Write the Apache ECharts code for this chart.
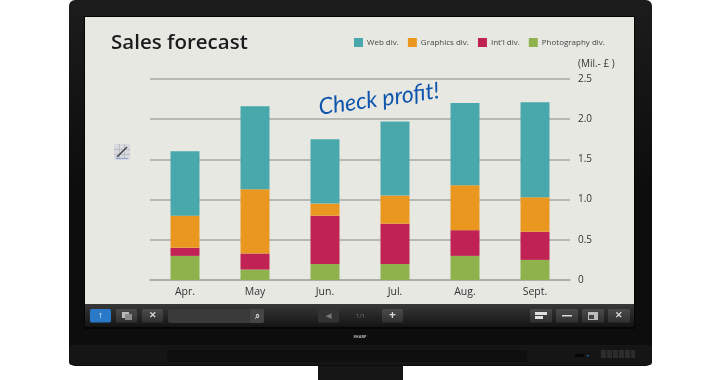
<!DOCTYPE html>
<html>
<head>
<meta charset="utf-8">
<style>
html,body{margin:0;padding:0;background:#fff;}
#chart{width:720px;height:380px;}
</style>
<script src="https://cdn.jsdelivr.net/npm/echarts@6/dist/echarts.min.js"></script>
</head>
<body>
<div id="chart"></div>
<script>
var months = ['Apr.', 'May', 'Jun.', 'Jul.', 'Aug.', 'Sept.'];
var photography = [0.30, 0.13, 0.20, 0.20, 0.30, 0.25];
var intl = [0.10, 0.20, 0.60, 0.50, 0.32, 0.35];
var graphics = [0.40, 0.80, 0.15, 0.35, 0.56, 0.43];
var web = [0.80, 1.03, 0.80, 0.92, 1.02, 1.18];

var FONT = '"Open Sans", "Noto Sans", sans-serif';

function rect(x, y, w, h, fill, r) {
  return { type: 'rect', shape: { x: x, y: y, width: w, height: h, r: r || 0 }, style: { fill: fill } };
}

// toolbar button
function btn(x, w, fill) {
  return {
    type: 'rect',
    shape: { x: x, y: 309, width: w, height: 13.5, r: 1.5 },
    style: {
      fill: fill || new echarts.graphic.LinearGradient(0, 0, 0, 1, [
        { offset: 0, color: '#4b4b4b' }, { offset: 1, color: '#303030' }
      ])
    }
  };
}

function glyph(x, y, text, size, color) {
  return {
    type: 'text', x: x, y: y,
    style: { text: text, fill: color || '#d8d8d8', font: 'bold ' + size + 'px ' + FONT, align: 'center', verticalAlign: 'middle' }
  };
}

// monitor frame, everything under the chart
var frame = [
  rect(318, 362, 85, 18, '#161616'),
  {
    type: 'rect',
    shape: { x: 69, y: 0, width: 583, height: 366, r: 6 },
    style: {
      fill: new echarts.graphic.LinearGradient(0, 0, 0, 1, [
        { offset: 0, color: '#1c1c1c' }, { offset: 0.5, color: '#0d0d0d' }, { offset: 1, color: '#0d0d0d' }
      ])
    }
  },
  rect(69, 345, 583, 20, '#151515', 3),
  rect(167, 350, 360, 12, '#0f0f0f'),
  rect(84, 16, 551, 313, '#050505'),
  rect(85, 17, 549, 287, '#e8e8e3'),
  {
    type: 'rect',
    shape: { x: 85, y: 304, width: 549, height: 23 },
    style: {
      fill: new echarts.graphic.LinearGradient(0, 0, 0, 1, [
        { offset: 0, color: '#383838' }, { offset: 1, color: '#141414' }
      ])
    }
  },
  btn(90, 21, '#2a78c8'), btn(116, 21), btn(142, 21),
  rect(168, 309, 96, 14, '#3a3a3a', 2),
  rect(250, 309, 14, 14, '#454545', 2),
  btn(318, 21, '#333333'), btn(382, 21),
  btn(530, 22), btn(556, 22), btn(582, 22), btn(608, 22),
  glyph(100.5, 315.5, '↑', 9, '#ffffff'),
  rect(122, 312, 7, 6, '#bbbbbb'), rect(125, 314, 7, 6, '#8a8a8a'),
  glyph(152.5, 315.5, '✕', 9),
  glyph(257, 316, '⌕', 9, '#cccccc'),
  glyph(328.5, 315.5, '◀', 7, '#777777'),
  { type: 'text', x: 360.5, y: 316, style: { text: '1/1', fill: '#777', font: '6px ' + FONT, align: 'center', verticalAlign: 'middle' } },
  glyph(392.5, 315.5, '+', 12),
  rect(535, 312, 12, 3, '#e0e0e0'), rect(535, 316, 8, 3, '#e0e0e0'),
  rect(562, 315, 10, 1.5, '#d8d8d8'),
  rect(588, 312, 10, 8, '#bdbdbd'), rect(589, 315, 5, 4, '#444444'),
  glyph(619, 315.5, '✕', 9),
  { type: 'text', x: 360, y: 337, style: { text: 'SHARP', fill: '#b5b5b5', font: 'bold 4px ' + FONT, align: 'center', verticalAlign: 'middle' } },
  rect(575, 354, 9, 3, '#050505'), rect(587, 355, 1.5, 1.5, '#1d6fd0'),
  rect(601, 350, 5, 8, '#2c2c2c'), rect(607, 350, 5, 8, '#2c2c2c'), rect(613, 350, 5, 8, '#2c2c2c'),
  rect(619, 350, 5, 8, '#2c2c2c'), rect(625, 350, 5, 8, '#2c2c2c'), rect(631, 350, 4, 8, '#2c2c2c'),
  // small pencil icon on the left of the plot
  rect(114, 144, 16, 16, '#d6d9de'),
  rect(119, 144, 1, 14, '#b9bcc2'), rect(124, 144, 1, 14, '#b9bcc2'),
  rect(114, 149, 16, 1, '#b9bcc2'), rect(114, 154, 16, 1, '#b9bcc2'),
  { type: 'line', shape: { x1: 117, y1: 157, x2: 127, y2: 147 }, style: { stroke: '#444', lineWidth: 1.5 } },
  rect(116, 158, 12, 1, '#8fa3cf')
];

var myChart = echarts.init(document.getElementById('chart'));

function barSeries(name, data, color) {
  return {
    name: name,
    type: 'bar',
    stack: 'sales',
    barWidth: 29,
    itemStyle: { color: color },
    data: data
  };
}

myChart.setOption({
  animation: false,
  backgroundColor: '#ffffff',
  textStyle: { fontFamily: FONT },
  title: {
    text: 'Sales forecast',
    left: 106,
    top: 28,
    textStyle: { fontFamily: FONT, fontSize: 20.5, fontWeight: 600, color: '#1c1c1c' }
  },
  legend: {
    left: 349,
    top: 33,
    icon: 'rect',
    itemWidth: 9,
    itemHeight: 9,
    itemGap: 9,
    data: ['Web div.', 'Graphics div.', "Int'l div.", 'Photography div.'],
    textStyle: { fontSize: 8, color: '#444444', padding: [1, 0, 0, -1] }
  },
  grid: { left: 150, right: 150, top: 79, bottom: 100 },
  xAxis: {
    type: 'category',
    data: months,
    axisTick: { show: false },
    axisLine: { lineStyle: { color: '#a9a9a5', width: 1.5 } },
    axisLabel: { color: '#333333', fontSize: 10.5, margin: 7 }
  },
  yAxis: {
    type: 'value',
    position: 'right',
    min: 0,
    max: 2.5,
    interval: 0.5,
    name: '(Mil.- £ )',
    nameLocation: 'end',
    nameGap: 10,
    nameTextStyle: { color: '#333333', fontSize: 10, align: 'left', padding: [0, 0, 0, 8] },
    axisLine: { show: false },
    axisTick: { show: false },
    splitLine: { lineStyle: { color: '#a9a9a5', width: 1.5 } },
    axisLabel: {
      color: '#333333',
      fontSize: 10,
      margin: 8,
      formatter: function (v) { return v === 0 ? '0' : v.toFixed(1); }
    }
  },
  graphic: {
    z: -10,
    elements: frame.concat([{
      type: 'text',
      z: 20,
      x: 379,
      y: 99,
      rotation: 8 * Math.PI / 180,
      style: {
        text: 'Check profit!',
        fill: '#0d55ad',
        font: 'italic 23px "Lato", sans-serif',
        align: 'center',
        verticalAlign: 'middle'
      }
    }])
  },
  series: [
    barSeries('Photography div.', photography, '#8fb24c'),
    barSeries("Int'l div.", intl, '#c02353'),
    barSeries('Graphics div.', graphics, '#ea9720'),
    barSeries('Web div.', web, '#48a8ab')
  ]
});
</script>
</body>
</html>
